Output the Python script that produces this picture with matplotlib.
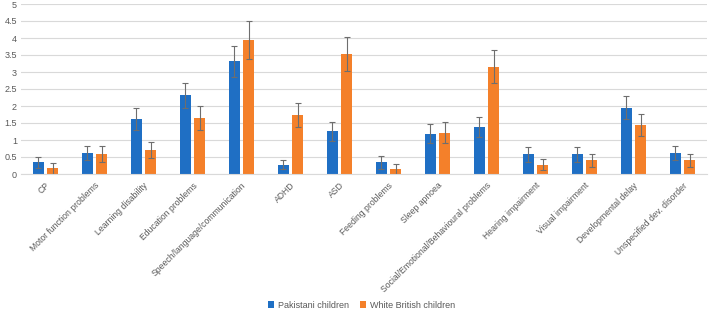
import matplotlib.pyplot as plt
import numpy as np

plt.rcParams['font.family'] = ['Liberation Sans', 'DejaVu Sans']

# categories and values
cats = ['CP', 'Motor function problems', 'Learning disability', 'Education problems',
        'Speech/language/communication', 'ADHD', 'ASD', 'Feeding problems', 'Sleep apnoea',
        'Social/Emotional/Behavioural problems', 'Hearing impairment', 'Visual impairment',
        'Developmental delay', 'Unspecified dev. disorder']
pak = [0.34, 0.61, 1.61, 2.31, 3.31, 0.27, 1.26, 0.35, 1.18, 1.39, 0.58, 0.58, 1.95, 0.61]
pak_err = [0.17, 0.21, 0.32, 0.38, 0.45, 0.13, 0.28, 0.19, 0.28, 0.30, 0.22, 0.22, 0.33, 0.21]
wb = [0.17, 0.58, 0.71, 1.65, 3.94, 1.74, 3.53, 0.15, 1.22, 3.16, 0.27, 0.40, 1.44, 0.40]
wb_err = [0.16, 0.24, 0.24, 0.35, 0.55, 0.36, 0.50, 0.15, 0.31, 0.48, 0.16, 0.19, 0.33, 0.19]

blue = '#1F6FC4'
orange = '#F4802A'
grey = '#595959'

x = np.arange(len(cats))
w = 0.225
off = 0.143

fig = plt.figure(figsize=(7.09, 3.10), dpi=100)
ax = fig.add_axes([21/709, 1 - 174/310, 686/709, 170/310])

ekw = dict(ecolor='#6e6e6e', elinewidth=0.8, capsize=2, capthick=0.8)
ax.bar(x - off, pak, w, yerr=pak_err, color=blue, error_kw=ekw, label='Pakistani children', zorder=2)
ax.bar(x + off, wb, w, yerr=wb_err, color=orange, error_kw=ekw, label='White British children', zorder=2)

ax.set_xlim(-0.5, len(cats) - 0.5)
ax.set_ylim(0, 5)
ax.set_yticks(np.arange(0, 5.01, 0.5))
ax.set_yticklabels(['0', '0.5', '1', '1.5', '2', '2.5', '3', '3.5', '4', '4.5', '5'])
ax.grid(axis='y', color='#d9d9d9', linewidth=0.8, zorder=0)
ax.set_axisbelow(True)
for s in ['top', 'right', 'left']:
    ax.spines[s].set_visible(False)
ax.spines['bottom'].set_color('#d9d9d9')
ax.tick_params(axis='y', length=0, labelsize=6.5, labelcolor=grey, pad=3)
ax.tick_params(axis='x', length=0, labelsize=6.2, labelcolor=grey, pad=5)
ax.set_xticks(x)
ax.set_xticklabels(cats, rotation=45, ha='right', rotation_mode='anchor')

leg = fig.legend(loc='lower center', bbox_to_anchor=(0.51, -0.025), ncol=2, frameon=False,
                 fontsize=6.5, handlelength=0.7, handleheight=0.7, handletextpad=0.4,
                 columnspacing=1.2)
for t in leg.get_texts():
    t.set_color(grey)

fig.savefig('out.png', dpi=100)
